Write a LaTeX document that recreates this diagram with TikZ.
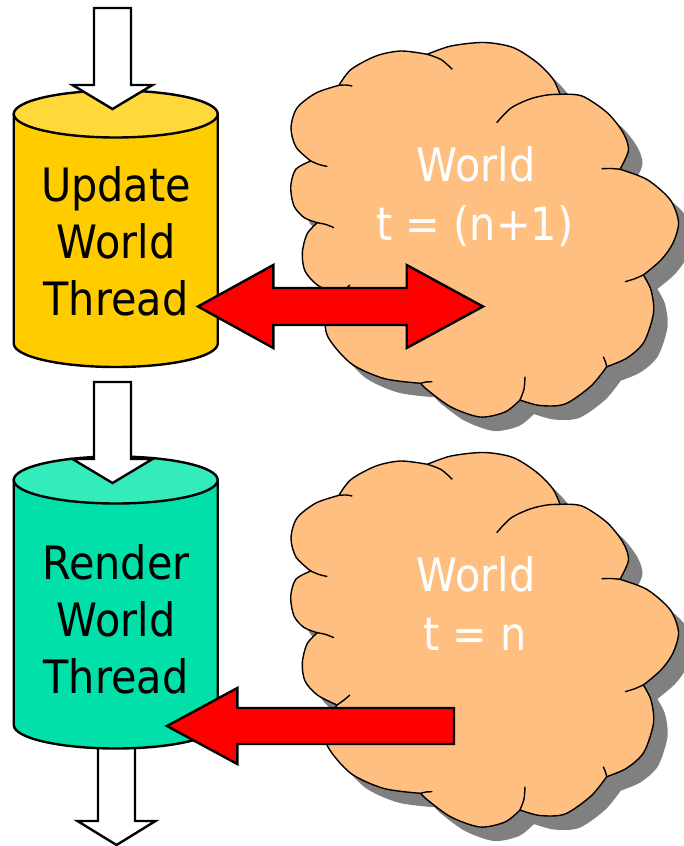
\documentclass[tikz,border=0pt]{standalone}
\usepackage{fontspec}
\setmainfont{DejaVu Sans}[FakeStretch=0.9]
\definecolor{cloudfill}{RGB}{255,191,128}
\definecolor{shadowgray}{RGB}{128,128,128}
\definecolor{yelbody}{RGB}{255,204,0}
\definecolor{yeltop}{RGB}{255,217,58}
\definecolor{grnbody}{RGB}{0,224,168}
\definecolor{grntop}{RGB}{51,235,187}
\newcommand\cloudoutline[1]{%
\path[#1] plot[smooth] coordinates {(310.7,161) (296,147) (291,128) (297,108) (316,93) (339,85.3)}
 -- plot[smooth] coordinates {(339,85.3) (351,69.5) (376,56) (401,51) (427.3,54.3)}
 -- plot[smooth] coordinates {(427.3,54.3) (451,46) (484,42.5) (513,47.5) (537,62.5) (553,79) (560,94.3)}
 -- plot[smooth] coordinates {(560,94.3) (582,96) (607,112.5) (623,132.5) (628.5,150) (620,169.3)}
 -- plot[smooth] coordinates {(620,169.3) (647,179.5) (670,199.5) (678.5,222) (673,243) (661,260) (643.3,275)}
 -- plot[smooth] coordinates {(643.3,275) (651,290) (653.5,313) (644,342) (627,358) (606.7,366.7)}
 -- plot[smooth] coordinates {(606.7,366.7) (591,386) (565,404) (540,405.5) (520,400)}
 -- plot[smooth] coordinates {(520,400) (505,412) (480,417) (451,407) (427.5,390) (420.7,383.3)}
 -- plot[smooth] coordinates {(420.7,383.3) (384,378.5) (351,363.5) (328,337) (326,315) (337,295)}
 -- plot[smooth] coordinates {(337,295) (317.3,285) (305,271) (302.3,253) (307,234) (317.3,222.7)}
 -- plot[smooth] coordinates {(317.3,222.7) (304,217.5) (294,206) (290.7,187) (295.7,169.5) (310.7,161)}
 -- cycle;}
\newcommand\cloudinner{%
\draw[cloudline] plot[smooth] coordinates {(310.7,161) (319,164.5) (327.3,166.5)};
\draw[cloudline] plot[smooth] coordinates {(339,85.3) (346,85) (352.3,86)};
\draw[cloudline] plot[smooth] coordinates {(427.3,54.3) (441,59.5) (452.3,69.3)};
\draw[cloudline] plot[smooth] coordinates {(496.7,122.7) (511,108) (530,99) (547,95) (560,94.3)};
\draw[cloudline] plot[smooth] coordinates {(601.7,168.7) (611,168.5) (620,169.3)};
\draw[cloudline] plot[smooth] coordinates {(625,281.7) (634,279) (643.3,275)};
\draw[cloudline] plot[smooth] coordinates {(603.3,356.7) (605.5,362) (606.7,366.7)};
\draw[cloudline] plot[smooth] coordinates {(525,376.7) (524,389) (520,400)};
\draw[cloudline] plot[smooth] coordinates {(420.7,383.3) (426,382) (432.3,381.7)};
\draw[cloudline] plot[smooth] coordinates {(337,295) (344,290) (350,285)};
\draw[cloudline] plot[smooth] coordinates {(317.3,222.7) (326,224.5) (334,227.7)};}
\begin{document}
\begin{tikzpicture}[x=1pt,y=-1pt,
  cyl/.style={draw=black, line width=2.4pt},
  warrow/.style={fill=white, draw=black, line width=2.4pt},
  rarrow/.style={fill=red, draw=black, line width=2.4pt},
  cloudline/.style={draw=black, line width=1.4pt},
  lbl/.style={inner sep=0pt, anchor=base, font=\fontsize{46}{57}\selectfont},
  wlbl/.style={lbl, text=white}]
\useasboundingbox (0,0) rectangle (683,846);

% clouds
\begin{scope}[shift={(14,14)}]
  \cloudoutline{fill=shadowgray}
\end{scope}
\cloudoutline{fill=cloudfill, draw=black, line width=1.4pt}
\cloudinner
\begin{scope}[shift={(14,424)}]
  \cloudoutline{fill=shadowgray}
\end{scope}
\begin{scope}[shift={(0,410)}]
  \cloudoutline{fill=cloudfill, draw=black, line width=1.4pt}
  \cloudinner
\end{scope}

\node[wlbl] (w1a) at (476,181.7) {World};
\node[wlbl] (w1b) at (475,240) {t = (n+1)};
\node[wlbl] (w2a) at (476,591.7) {World};
\node[wlbl] (w2b) at (475,650) {t = n};

% update cylinder
\path[cyl, fill=yelbody] (13.75,114) -- (13.75,343.5) arc[start angle=180, end angle=360, x radius=102pt, y radius=23.5pt] -- (217.75,114) -- cycle;
\path[cyl, fill=yeltop] (115.75,114) ellipse[x radius=102pt, y radius=23.5pt];
\node[lbl] (u1) at (116,201) {Update};
\node[lbl] (u2) at (116,258) {World};
\node[lbl] (u3) at (116,315) {Thread};

% bottom white arrow (behind render cylinder)
\path[warrow] (98,700) -- (135,700) -- (135,821) -- (155.5,821) -- (116.5,845) -- (77.5,821) -- (98,821) -- cycle;

% render cylinder
\path[cyl, fill=grnbody] (13.75,480) -- (13.75,725) arc[start angle=180, end angle=360, x radius=102pt, y radius=23.5pt] -- (217.75,480) -- cycle;
\path[cyl, fill=grntop] (115.75,480) ellipse[x radius=102pt, y radius=23.5pt];
\node[lbl] (r1) at (116,579) {Render};
\node[lbl] (r2) at (116,636) {World};
\node[lbl] (r3) at (116,693) {Thread};

% white arrows
\path[warrow] (94,8) -- (131,8) -- (131,85) -- (152.5,85) -- (112.5,109) -- (72.5,85) -- (94,85) -- cycle;
\path[warrow] (94,382) -- (131,382) -- (131,459) -- (152.5,459) -- (112.5,483) -- (72.5,459) -- (94,459) -- cycle;

% red arrows
\path[rarrow] (198,306.5) -- (273.3,265) -- (273.3,288) -- (406.7,288) -- (406.7,265) -- (483,306.5) -- (406.7,348) -- (406.7,325) -- (273.3,325) -- (273.3,348) -- cycle;
\path[rarrow] (167,726) -- (237.3,688) -- (237.3,708) -- (454,708) -- (454,744) -- (237.3,744) -- (237.3,764) -- cycle;
\end{tikzpicture}
\end{document}
